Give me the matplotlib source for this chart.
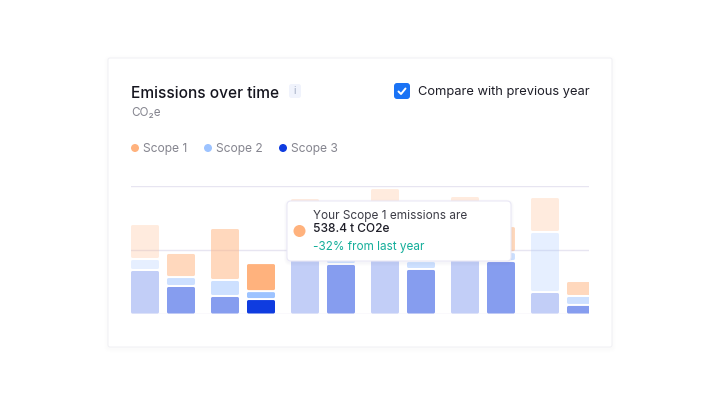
import matplotlib
matplotlib.use('Agg')
import matplotlib.pyplot as plt
from matplotlib.patches import FancyBboxPatch, Circle

plt.rcParams['font.family'] = ['Inter', 'Noto Sans', 'DejaVu Sans']

# values in t CO2e, one pair of bars (previous year, this year) per group
scope3 = [332, 207, 129, 105, 496, 379, 457, 340, 457, 402, 160, 59]
scope2 = [86, 70, 125, 62, 117, 102, 156, 62, 117, 70, 469, 70]
scope1 = [273, 188, 406, 219, 281, 289, 359, 289, 336, 203, 273, 117]
strength = [0.25, 0.5, 0.5, 1, 0.25, 0.5, 0.25, 0.5, 0.25, 0.5, 0.25, 0.5]
grid_values = [0, 500, 1000]

scope_names = ['Scope 1', 'Scope 2', 'Scope 3']
scope_colors = ['#FFB27D', '#9DC3FF', '#0F3CE0']

W, H = 720, 405
fig = plt.figure(figsize=(W / 100, H / 100), dpi=100, facecolor='white')


def px_axes(z):
    a = fig.add_axes([0, 0, 1, 1], zorder=z)
    a.set_xlim(0, W)
    a.set_ylim(H, 0)
    a.axis('off')
    a.patch.set_alpha(0)
    return a


def shadowed_box(a, x, y, w, h, r, face, edge, spread, step_alpha, lw=0.7):
    for s in range(spread, 0, -1):
        a.add_patch(FancyBboxPatch((x - s, y - s + 1.5), w + 2 * s, h + 2 * s,
                                   boxstyle=f'round,pad=0,rounding_size={r + s}',
                                   fc='#3C3C64', ec='none', alpha=step_alpha))
    a.add_patch(FancyBboxPatch((x, y), w, h, boxstyle=f'round,pad=0,rounding_size={r}',
                               fc=face, ec=edge, lw=lw))


# card
back = px_axes(0)
shadowed_box(back, 108, 58, 504, 289, 2, '#FFFFFF', '#F0F0F4', 4, 0.004)

back.text(131, 93, 'Emissions over time', fontsize=11.1, fontweight='medium', color='#14141E', va='center')
back.add_patch(FancyBboxPatch((289, 84), 12, 14, boxstyle='round,pad=0,rounding_size=2.5', fc='#F0F3FC', ec='none'))
back.text(295, 91, 'i', fontsize=7.5, color='#A4AEC4', ha='center', va='center')
back.text(131, 112.5, 'CO₂e', fontsize=8.4, color='#85858F', va='center')

# legend
for name, color, cx in zip(scope_names, scope_colors, [135, 208, 283]):
    back.add_patch(Circle((cx, 148), 4, fc=color, ec='none'))
    back.text(cx + 8, 149, name, fontsize=8.7, color='#85858F', va='center')

# checkbox
back.add_patch(FancyBboxPatch((394, 83), 16, 16, boxstyle='round,pad=0,rounding_size=3', fc='#1A73F5', ec='none'))
back.plot([398.5, 401, 405.5], [91.5, 94, 88.5], color='white', lw=1.4, solid_capstyle='round')
back.text(418, 92, 'Compare with previous year', fontsize=9.27, color='#1E1E28', va='center')

# chart
x0, x1, y_base, y_top = 131, 589, 313.5, 185.5
ax = fig.add_axes([x0 / W, 1 - y_base / H, (x1 - x0) / W, (y_base - y_top) / H], zorder=1)
ax.patch.set_alpha(0)
group_px = 80
bar_w = 28 / group_px
ax.set_xlim(-32 / group_px, (x1 - 163) / group_px)
ax.set_ylim(0, 1000)
for s in ax.spines.values():
    s.set_visible(False)
ax.set_xticks([])
ax.set_yticks([])
for g in grid_values:
    ax.axhline(g, color='#E7E5F1', lw=1, zorder=1)

units_per_px_y = 1000 / (y_base - y_top)
gap = 2 * units_per_px_y
radius = 1.6 / group_px
aspect = units_per_px_y * group_px

for i in range(len(scope1)):
    x = i // 2 + (-18 if i % 2 == 0 else 18) / group_px
    bottom = 0
    for vals, color in zip([scope3, scope2, scope1], scope_colors[::-1]):
        lift = gap if bottom > 0 else 0
        rect = FancyBboxPatch((x - bar_w / 2, bottom + lift), bar_w, vals[i] - lift,
                              boxstyle=f'round,pad=0,rounding_size={radius}',
                              mutation_aspect=aspect, fc=color, ec='none',
                              alpha=strength[i], zorder=2)
        ax.add_patch(rect)
        bottom += vals[i]

# tooltip
top = px_axes(2)
shadowed_box(top, 287, 201, 224, 60, 4, '#FFFFFF', '#EAE8F6', 3, 0.01, lw=0.8)
top.add_patch(Circle((299.5, 231), 6, fc=scope_colors[0], ec='none'))
top.text(313, 216, 'Your Scope 1 emissions are', fontsize=8.5, color='#3C3C46', va='center')
top.text(313, 229.5, '538.4 t CO2e', fontsize=8.6, fontweight='medium', color='#1E1E28', va='center')
top.text(313, 247, '-32% from last year', fontsize=8.45, color='#14AE9A', va='center')

fig.savefig('out.png', dpi=100)
